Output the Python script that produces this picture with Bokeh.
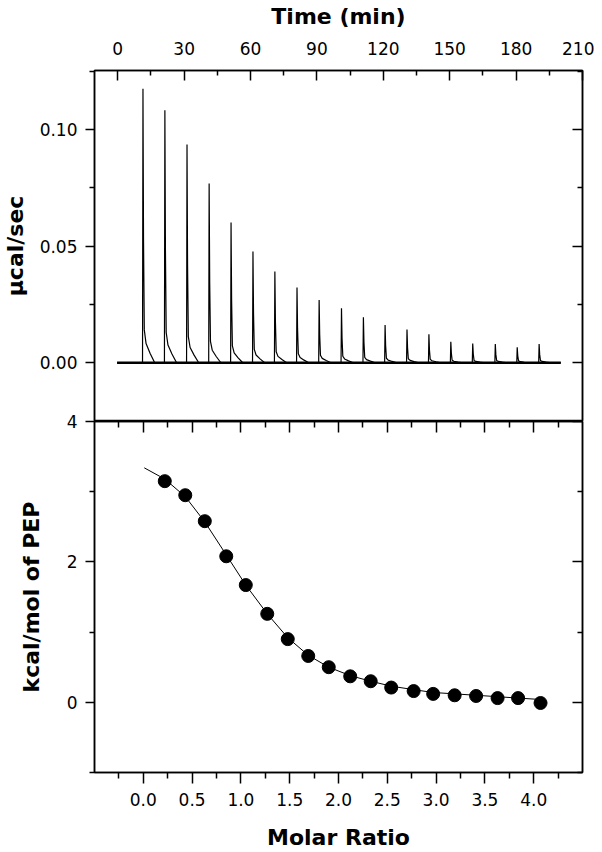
from bokeh.plotting import figure
from bokeh.layouts import column
from bokeh.models import (Range1d, LinearAxis, FixedTicker, PrintfTickFormatter,
                          CustomJSTickFormatter)
from bokeh.embed import file_html
from bokeh.resources import INLINE

# ---------------- data ----------------
# raw ITC trace: injection times (min) and peak heights (ucal/sec)
inj_time = [11.2, 21.1, 31.1, 41.1, 51.0, 60.9, 70.8, 80.8, 90.8, 100.9,
            110.8, 120.6, 130.5, 140.4, 150.3, 160.2, 170.4, 180.3, 190.2]
inj_peak = [0.1176, 0.1083, 0.0937, 0.0769, 0.0602, 0.0477, 0.0392, 0.0323,
            0.0269, 0.0234, 0.0195, 0.0162, 0.0143, 0.0122, 0.0090, 0.0083,
            0.0080, 0.0066, 0.0080]
trace_start = -0.3
trace_end = 200.2
# shape of one injection peak (min after injection, fraction of peak)
peak_dt = [0.0, 0.2, 0.45, 0.8, 1.6, 3.4, 5.5]
peak_frac = [0.0, 1.0, 0.45, 0.12, 0.07, 0.035, 0.0]

# integrated heats
molar_ratio = [0.22, 0.43, 0.63, 0.85, 1.05, 1.27, 1.48, 1.69, 1.90, 2.12,
               2.33, 2.54, 2.77, 2.97, 3.19, 3.41, 3.63, 3.84, 4.07]
heat = [3.15, 2.95, 2.58, 2.08, 1.67, 1.26, 0.90, 0.66, 0.50, 0.37,
        0.30, 0.21, 0.16, 0.12, 0.10, 0.09, 0.06, 0.06, -0.01]
# fitted curve
fit_ratio = [0.01, 0.22, 0.43, 0.63, 0.85, 1.05, 1.27, 1.48, 1.69, 1.90,
             2.12, 2.33, 2.54, 2.77, 2.97, 3.19, 3.41, 3.63, 3.84, 4.07]
fit_heat = [3.34, 3.18, 2.93, 2.57, 2.10, 1.67, 1.26, 0.92, 0.67, 0.50,
            0.38, 0.30, 0.23, 0.18, 0.14, 0.12, 0.10, 0.08, 0.06, 0.04]

# ticks
time_ticks = [0, 30, 60, 90, 120, 150, 180, 210]
time_minor = [15, 45, 75, 105, 135, 165, 195]
power_ticks = [0.0, 0.05, 0.10]
power_minor = [0.025, 0.075, 0.125]
ratio_ticks = [0.0, 0.5, 1.0, 1.5, 2.0, 2.5, 3.0, 3.5, 4.0]
ratio_minor = [-0.25, 0.25, 0.75, 1.25, 1.75, 2.25, 2.75, 3.25, 3.75, 4.25]
heat_ticks = [0, 2, 4]
heat_minor = [-1, 1, 3]

FONT = "DejaVu Sans"


def style_axis(ax, t_in, t_out, m_in, m_out, label_standoff=8):
    ax.axis_line_width = 1.5
    ax.axis_line_color = "black"
    ax.major_tick_line_width = 1.5
    ax.minor_tick_line_width = 1.5
    ax.major_tick_line_color = "black"
    ax.minor_tick_line_color = "black"
    ax.major_tick_in = t_in
    ax.major_tick_out = t_out
    ax.minor_tick_in = m_in
    ax.minor_tick_out = m_out
    ax.major_label_text_font = FONT
    ax.major_label_text_font_size = "17px"
    ax.major_label_text_color = "black"
    ax.major_label_standoff = label_standoff
    ax.axis_label_text_font = FONT
    ax.axis_label_text_font_size = "22px"
    ax.axis_label_text_font_style = "bold"
    ax.axis_label_text_color = "black"


def hide_labels(ax, standoff=0):
    ax.formatter = CustomJSTickFormatter(code="return ''")
    ax.major_label_text_font_size = "1px"
    ax.major_label_standoff = standoff
    ax.major_label_text_color = None


# ---------------- top panel: raw data ----------------
tx = [trace_start]
ty = [0.0]
for t, h in zip(inj_time, inj_peak):
    for dt, f in zip(peak_dt, peak_frac):
        tx.append(t + dt)
        ty.append(h * f)
tx.append(trace_end)
ty.append(0.0)

top = figure(width=606, height=421,
             x_range=Range1d(-10.5, 210), y_range=Range1d(-0.0252, 0.1254),
             x_axis_location="above", output_backend="svg", toolbar_location=None,
             min_border_left=100, min_border_right=12, min_border_top=70,
             min_border_bottom=0, margin=(0, 0, 0, -6))
top.border_fill_color = None
top.xgrid.visible = False
top.ygrid.visible = False
top.outline_line_color = "black"
top.outline_line_width = 1.5

top.line([trace_start, trace_end], [0, 0], line_color="black", line_width=2.6)
top.line(tx, ty, line_color="black", line_width=1.2)

xa = top.xaxis[0]
xa.ticker = FixedTicker(ticks=time_ticks, minor_ticks=time_minor)
xa.axis_label = "Time (min)"
style_axis(xa, 10, 0, 5, 0, label_standoff=16)
xa.axis_label_standoff = 10

ya = top.yaxis[0]
ya.ticker = FixedTicker(ticks=power_ticks, minor_ticks=power_minor)
ya.formatter = PrintfTickFormatter(format="%.2f")
ya.axis_label = "µcal/sec"
style_axis(ya, 0, 9, 0, 5, label_standoff=8)
ya.axis_label_standoff = 9

ra = LinearAxis(ticker=FixedTicker(ticks=power_ticks, minor_ticks=power_minor))
style_axis(ra, 10, 0, 5, 0)
hide_labels(ra)
top.add_layout(ra, "right")

# ---------------- bottom panel: integrated heats ----------------
bot = figure(width=606, height=439,
             x_range=Range1d(-0.5, 4.5), y_range=Range1d(-1, 4),
             output_backend="svg", toolbar_location=None,
             min_border_left=100, min_border_right=12, min_border_top=8,
             min_border_bottom=80, margin=(-8, 0, 0, -6))
bot.border_fill_color = None
bot.xgrid.visible = False
bot.ygrid.visible = False
bot.outline_line_color = "black"
bot.outline_line_width = 1.5

bot.line(fit_ratio, fit_heat, line_color="black", line_width=1)
bot.scatter(molar_ratio, heat, size=13, fill_color="black", line_color="black")

bx = bot.xaxis[0]
bx.ticker = FixedTicker(ticks=ratio_ticks, minor_ticks=ratio_minor)
bx.formatter = PrintfTickFormatter(format="%.1f")
bx.axis_label = "Molar Ratio"
style_axis(bx, 0, 11, 0, 6, label_standoff=9)
bx.axis_label_standoff = 16

by = bot.yaxis[0]
by.ticker = FixedTicker(ticks=heat_ticks, minor_ticks=heat_minor)
by.axis_label = "kcal/mol of PEP"
style_axis(by, 0, 9, 0, 5, label_standoff=8)
by.axis_label_standoff = 20

bt = LinearAxis(ticker=FixedTicker(ticks=ratio_ticks, minor_ticks=ratio_minor))
style_axis(bt, 11, 0, 6, 0)
hide_labels(bt)
bot.add_layout(bt, "above")

br = LinearAxis(ticker=FixedTicker(ticks=heat_ticks, minor_ticks=heat_minor))
style_axis(br, 10, 0, 5, 0)
hide_labels(br)
bot.add_layout(br, "right")

layout = column(top, bot)
open("out.html", "w").write(file_html(layout, INLINE))
